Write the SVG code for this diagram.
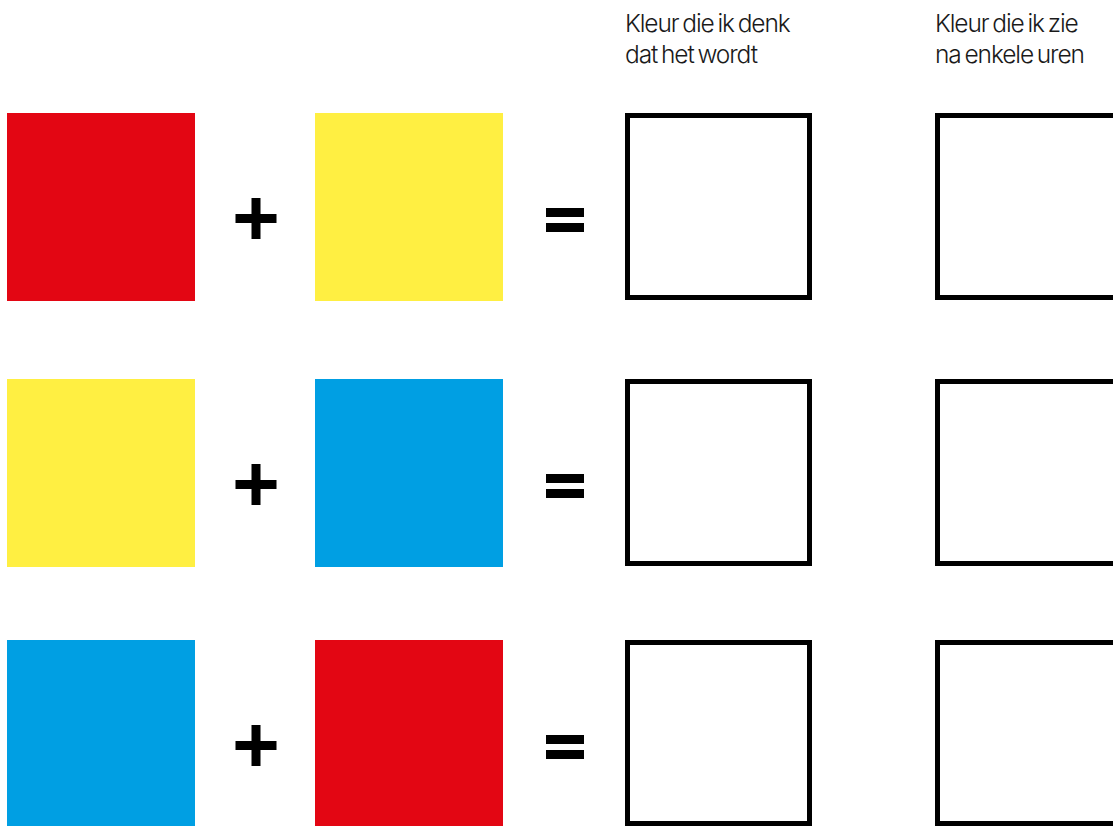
<svg xmlns="http://www.w3.org/2000/svg" width="1113" height="826" viewBox="0 0 1113 826">
<style>
.red{fill:#E30613}
.yel{fill:#FFEF42}
.blu{fill:#009FE3}
.box{fill:none;stroke:#000;stroke-width:5}
.op{fill:#000}
.lbl{font-family:Inter,"Liberation Sans",sans-serif;font-weight:300;font-size:24.5px;letter-spacing:-1.1px;word-spacing:-2px;fill:#1a1a1a}
</style>
<defs>
<g id="plus"><rect x="-20.5" y="-4.5" width="41" height="9"/><rect x="-4.5" y="-20.5" width="9" height="41"/></g>
<g id="eq"><rect x="0" y="-12" width="38" height="9"/><rect x="0" y="3" width="38" height="9"/></g>
</defs>
<g id="header1"><text class="lbl" x="625" y="32">Kleur die ik denk</text><text class="lbl" x="625" y="63">dat het wordt</text></g>
<g id="header2"><text class="lbl" x="935" y="32">Kleur die ik zie</text><text class="lbl" x="935" y="63">na enkele uren</text></g>
<g id="row1">
<rect class="red" x="7" y="113" width="188" height="188"/>
<use href="#plus" class="op" x="256" y="218.5"/>
<rect class="yel" x="315" y="113" width="188" height="188"/>
<use href="#eq" class="op" x="546" y="220"/>
<rect class="box" x="627.5" y="115.5" width="182" height="182"/>
<rect class="box" x="937.5" y="115.5" width="200" height="182"/>
</g>
<g id="row2">
<rect class="yel" x="7" y="379" width="188" height="188"/>
<use href="#plus" class="op" x="256" y="484.5"/>
<rect class="blu" x="315" y="379" width="188" height="188"/>
<use href="#eq" class="op" x="546" y="486"/>
<rect class="box" x="627.5" y="381.5" width="182" height="182"/>
<rect class="box" x="937.5" y="381.5" width="200" height="182"/>
</g>
<g id="row3">
<rect class="blu" x="7" y="640" width="188" height="188"/>
<use href="#plus" class="op" x="256" y="745.5"/>
<rect class="red" x="315" y="640" width="188" height="188"/>
<use href="#eq" class="op" x="546" y="747"/>
<rect class="box" x="627.5" y="642.5" width="182" height="181"/>
<rect class="box" x="937.5" y="642.5" width="200" height="181"/>
</g>
<g id="connectors"></g>
</svg>
